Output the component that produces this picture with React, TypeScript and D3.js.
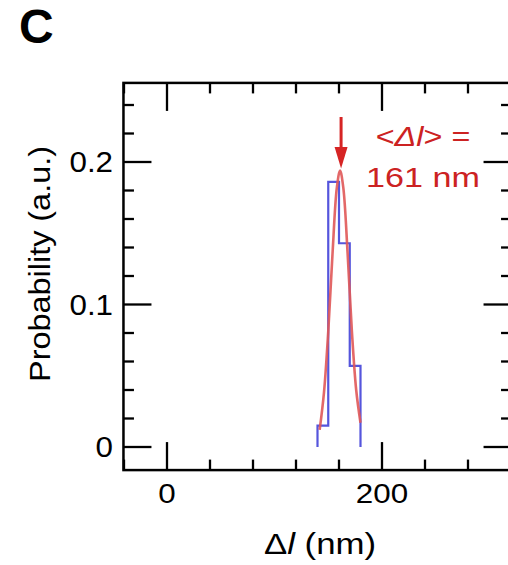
import React from "react";
import * as d3 from "d3";

const binEdges = [140, 150, 160, 170, 180];
const binValues = [0.015, 0.186, 0.143, 0.057];
const fitX = [142, 146, 150, 154, 158, 161, 164, 168, 172, 176, 180];
const fitY = [0.012, 0.038, 0.081, 0.136, 0.182, 0.194, 0.182, 0.136, 0.081, 0.04, 0.017];
const xMajor = [0, 200];
const xMinor = [-40, 40, 80, 120, 160, 240, 280, 320];
const yMajor = [0, 0.1, 0.2];
const yMinor = [0.02, 0.04, 0.06, 0.08, 0.12, 0.14, 0.16, 0.18, 0.22, 0.24];
const xTickLabels = ["0", "200"];
const yTickLabels = ["0", "0.1", "0.2"];
const meanValue = 161;

const W = 508;
const H = 565;
const font = "'Liberation Sans', Arial, sans-serif";

function SText(props: {
  x: number;
  y: number;
  sx?: number;
  rotate?: number;
  size: number;
  anchor?: string;
  fill?: string;
  weight?: string;
  children: React.ReactNode;
}) {
  const { x, y, sx = 1.1, rotate = 0, size, anchor = "middle", fill = "#000", weight } = props;
  return (
    <text
      transform={`translate(${x},${y}) rotate(${rotate}) scale(${sx},1)`}
      fontSize={size}
      textAnchor={anchor as any}
      fill={fill}
      fontWeight={weight}
    >
      {props.children}
    </text>
  );
}

export default function App() {
  const x = d3.scaleLinear().domain([0, 200]).range([167, 382]);
  const y = d3.scaleLinear().domain([0, 0.2]).range([447, 162]);
  const left = x(-40.5);
  const right = x(320.5);
  const top = y(0.2555);
  const bottom = y(-0.0162);
  const majLen = 28;
  const minLen = 10.5;

  const pts: [number, number][] = [];
  pts.push([binEdges[0], 0]);
  binValues.forEach((v, i) => {
    pts.push([binEdges[i], v]);
    pts.push([binEdges[i + 1], v]);
  });
  pts.push([binEdges[binEdges.length - 1], 0]);
  const stepLine = d3
    .line<[number, number]>()
    .x((d) => x(d[0]))
    .y((d) => y(d[1]));

  const fitLine = d3
    .line<number>()
    .x((d, i) => x(fitX[i]))
    .y((d) => y(d))
    .curve(d3.curveCatmullRom);

  const peakY = d3.max(fitY) as number;
  const ax = x(meanValue) + 1;

  return (
    <svg
      width={W}
      height={H}
      style={{ position: "absolute", left: 0, top: 0, background: "#fff" }}
      fontFamily={font}
    >
      <SText x={19} y={43} size={48} weight="bold" anchor="start" sx={1.0}>
        C
      </SText>

      <path d={stepLine(pts) || ""} fill="none" stroke="#5555dc" strokeWidth={2.2} />
      <path
        d={fitLine(fitY) || ""}
        fill="none"
        stroke="#e05858"
        strokeOpacity={0.9}
        strokeWidth={2.6}
      />

      <line x1={ax} x2={ax} y1={117} y2={150} stroke="#d62424" strokeWidth={3} />
      <path
        d={`M${ax - 6.5},${147} L${ax + 6.5},${147} L${ax},${y(peakY) - 2} Z`}
        fill="#d62424"
      />
      <SText x={423} y={146} size={27} sx={1.2} fill="#cc2222">
        {"<"}
        <tspan fontStyle="italic">Δl</tspan>
        {"> ="}
      </SText>
      <SText x={423} y={187} size={28} sx={1.22} fill="#cc2222">
        {`${meanValue} nm`}
      </SText>

      <rect
        x={left}
        y={top}
        width={right - left}
        height={bottom - top}
        fill="none"
        stroke="#000"
        strokeWidth={2.5}
      />

      {xMajor.map((v) => (
        <g key={"xM" + v}>
          <line x1={x(v)} x2={x(v)} y1={bottom} y2={bottom - majLen} stroke="#000" strokeWidth={2.3} />
          <line x1={x(v)} x2={x(v)} y1={top} y2={top + majLen} stroke="#000" strokeWidth={2.3} />
        </g>
      ))}
      {xMinor.map((v) => (
        <g key={"xm" + v}>
          <line x1={x(v)} x2={x(v)} y1={bottom} y2={bottom - minLen} stroke="#000" strokeWidth={2.3} />
          <line x1={x(v)} x2={x(v)} y1={top} y2={top + minLen} stroke="#000" strokeWidth={2.3} />
        </g>
      ))}
      {yMajor.map((v) => (
        <g key={"yM" + v}>
          <line x1={left} x2={left + majLen} y1={y(v)} y2={y(v)} stroke="#000" strokeWidth={2.3} />
          <line x1={right} x2={right - majLen} y1={y(v)} y2={y(v)} stroke="#000" strokeWidth={2.3} />
        </g>
      ))}
      {yMinor.map((v) => (
        <g key={"ym" + v}>
          <line x1={left} x2={left + minLen} y1={y(v)} y2={y(v)} stroke="#000" strokeWidth={2.3} />
          <line x1={right} x2={right - minLen} y1={y(v)} y2={y(v)} stroke="#000" strokeWidth={2.3} />
        </g>
      ))}

      {xMajor.map((v, i) => (
        <SText key={"xl" + v} x={x(v)} y={503} size={28.5} sx={1.1}>
          {xTickLabels[i]}
        </SText>
      ))}
      {yMajor.map((v, i) => (
        <SText key={"yl" + v} x={113} y={y(v) + 10} size={29} sx={1.08} anchor="end">
          {yTickLabels[i]}
        </SText>
      ))}

      <SText x={320} y={554} size={29} sx={1.2}>
        Δ<tspan fontStyle="italic">l</tspan> (nm)
      </SText>
      <SText x={50} y={264} size={30} sx={1.08} rotate={-90}>
        Probability (a.u.)
      </SText>
    </svg>
  );
}
